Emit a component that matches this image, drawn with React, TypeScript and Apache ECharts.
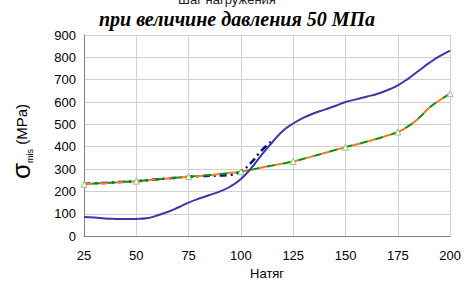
import React, { useEffect, useRef } from "react";
import * as echarts from "echarts";

const xValues = [25,30,35,40,45,50,55,60,65,70,75,80,85,90,95,100,105,110,115,120,125,130,135,140,145,150,155,160,165,170,175,180,185,190,195,200];
const blueSolid = [85,83,79,77,76,77,80,92,108,128,150,168,184,200,222,255,305,365,420,470,504,530,550,566,582,600,612,624,636,653,675,705,740,775,805,830];
const navyX = [25,30,35,40,45,50,55,60,65,70,75,80,85,90,95,100,105,110,115];
const navyDashDot = [233,236,238,241,243,246,250,254,258,262,265,268,270,271,274,290,330,385,425];
const orangeDashed = [232,235,237,240,243,246,250,254,258,262,266,269,273,278,283,288,297,307,316,325,334,346,359,372,385,398,410,422,436,450,466,492,528,574,608,637];
const greenDashed = [232,235,237,240,243,246,250,254,258,262,266,269,273,278,283,288,297,307,316,325,334,346,359,372,385,398,410,422,436,450,466,492,528,574,608,637];
const markerXs = [25,50,75,100,125,150,175,200];
const titleTop = "Шаг нагружения";
const titleMain = "при величине давления 50 МПа";
const xName = "Натяг";

export default function App() {
  const ref = useRef<HTMLDivElement>(null);
  useEffect(() => {
    if (!ref.current) return;
    const chart = echarts.init(ref.current, undefined, { renderer: "svg" });
    const pairs = (xs: number[], ys: number[]) => xs.map((x, i) => [x, ys[i]]);
    const sans = "'Liberation Sans', Arial, sans-serif";
    chart.setOption({
      animation: false,
      backgroundColor: "#ffffff",
      grid: { left: 76, right: 11, top: 35, bottom: 38, containLabel: false },
      graphic: [
        {
          type: "text",
          x: 227,
          y: -7,
          style: { text: titleTop, font: "13px 'Liberation Sans', Arial, sans-serif", fill: "#222", align: "center" },
        },
        {
          type: "text",
          x: 237,
          y: 19,
          style: {
            text: titleMain,
            font: "italic bold 20px 'Liberation Serif', 'Times New Roman', serif",
            fill: "#000",
            align: "center",
            verticalAlign: "middle",
          },
        },
      ],
      xAxis: {
        type: "value",
        min: 25,
        max: 200,
        interval: 25,
        name: xName,
        nameLocation: "middle",
        nameGap: 26,
        nameTextStyle: { fontFamily: sans, fontSize: 13, color: "#000" },
        axisLine: { show: true, lineStyle: { color: "#808080", width: 1 } },
        axisTick: { show: false },
        axisLabel: { fontFamily: sans, fontSize: 13, color: "#000", margin: 13 },
        splitLine: { show: true, lineStyle: { color: "#d0d0d0", width: 1 } },
      },
      yAxis: {
        type: "value",
        min: 0,
        max: 900,
        interval: 100,
        name: "{s|σ}{sub|mis}{m| (MPa)}",
        nameLocation: "middle",
        nameGap: 50,
        nameRotate: 90,
        nameTextStyle: {
          rich: {
            s: { fontFamily: sans, fontSize: 26, color: "#000" },
            sub: { fontFamily: sans, fontSize: 9, color: "#000", verticalAlign: "bottom", padding: [8, 0, 0, 0] },
            m: { fontFamily: sans, fontSize: 15, color: "#000", padding: [0, 12, 0, 0] },
          },
        },
        axisLine: { show: true, lineStyle: { color: "#808080", width: 1 } },
        axisTick: { show: false },
        axisLabel: { fontFamily: sans, fontSize: 13, color: "#000", margin: 8 },
        splitLine: { show: true, lineStyle: { color: "#d0d0d0", width: 1 } },
      },
      series: [
        {
          type: "line",
          name: "navy",
          data: pairs(navyX, navyDashDot),
          smooth: true,
          showSymbol: false,
          lineStyle: { color: "#10107a", width: 2.5, type: [7, 4, 2, 4] },
          z: 2,
        },
        {
          type: "line",
          name: "orange",
          data: pairs(xValues, orangeDashed),
          smooth: true,
          showSymbol: false,
          lineStyle: { color: "#ff7a1a", width: 2, type: [8, 8] },
          z: 3,
        },
        {
          type: "line",
          name: "green",
          data: xValues.map((x, i) =>
            markerXs.includes(x)
              ? { value: [x, greenDashed[i]], symbol: "triangle" }
              : { value: [x, greenDashed[i]], symbol: "none" }
          ),
          smooth: true,
          showSymbol: true,
          showAllSymbol: true,
          symbolSize: 6,
          itemStyle: { color: "#ffffff", borderColor: "#7fcc7f", borderWidth: 1 },
          lineStyle: { color: "#168a16", width: 2, type: [8, 8], dashOffset: 8 },
          z: 4,
        },
        {
          type: "line",
          name: "blue",
          data: pairs(xValues, blueSolid),
          smooth: true,
          showSymbol: false,
          lineStyle: { color: "#3838a8", width: 2 },
          z: 5,
        },
      ],
    });
    return () => chart.dispose();
  }, []);
  return <div ref={ref} style={{ width: 464, height: 285, position: "absolute", left: 0, top: 0 }} />;
}
